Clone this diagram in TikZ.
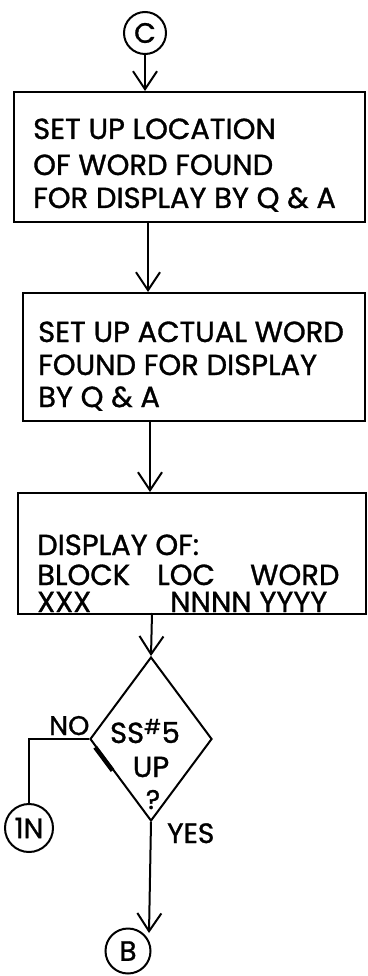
\documentclass[tikz,border=0pt]{standalone}
\usepackage{fontspec}
\setmainfont{Poppins}[FakeBold=1.1]
\usetikzlibrary{arrows.meta,shapes.geometric,calc}
\tikzset{
  ln/.style={line width=2pt},
  arr/.style={ln,-{Straight Barb[length=18pt,width=24pt,line width=2pt]}},
  boxx/.style={draw,ln,rectangle,anchor=north west,inner sep=0pt},
  txt/.style={anchor=base west,inner sep=0pt,font=\fontsize{29}{32}\selectfont},
  ctxt/.style={anchor=base,inner sep=0pt,font=\fontsize{29}{32}\selectfont},
  conn/.style={draw,ln,circle,inner sep=0pt,font=\fontsize{28}{30}\selectfont},
}
\begin{document}
\begin{tikzpicture}[x=1pt,y=-1pt]
\useasboundingbox (0,0) rectangle (367,976);
% connector C
\node[conn,minimum size=42pt] (c) at (145,33) {C};
% box 1
\node[boxx,minimum width=351pt,minimum height=130pt] (b1) at (13,91) {};
\node[txt] (b1a) at (33,139) {SET UP LOCATION};
\node[txt] (b1b) at (33,175) {OF WORD FOUND};
\node[txt] (b1c) at (33,208) {FOR DISPLAY BY Q \& A};
% box 2
\node[boxx,minimum width=342pt,minimum height=128pt] (b2) at (22,292) {};
\node[txt] (b2a) at (38,342) {SET UP ACTUAL WORD};
\node[txt] (b2b) at (38,375) {FOUND FOR DISPLAY};
\node[txt] (b2c) at (38,407) {BY Q \& A};
% box 3
\node[boxx,minimum width=348pt,minimum height=121pt] (b3) at (17,492) {};
\node[txt] (b3a) at (37,555) {DISPLAY OF:};
\node[txt] (b3b) at (37,585) {BLOCK};
\node[txt] (b3c) at (157,585) {LOC};
\node[txt] (b3d) at (250,585) {WORD};
\node[txt] (b3e) at (37,612) {XXX};
\node[txt] (b3f) at (170,612) {NNNN YYYY};
% decision
\node[draw,ln,diamond,inner sep=0pt,minimum width=122pt,minimum height=164pt] (d) at (151,739) {};
\node[ctxt] (d1) at (145,743) {SS\textsuperscript{\#}5};
\node[ctxt] (d2) at (151,777) {UP};
\node[ctxt,font=\fontsize{27}{29}\selectfont] (d3) at (153,809) {?};
\draw[line width=4.5pt] ($(d.west)!0.1!(d.south)$) -- ($(d.west)!0.38!(d.south)$);
\node[txt,font=\fontsize{27}{29}\selectfont] (no) at (49,735) {NO};
\node[txt,font=\fontsize{28}{30}\selectfont] (yes) at (167,843) {YES};
% off-page connectors
\node[conn,minimum size=48pt] (n1) at (29,828) {1N};
\node[conn,minimum size=45pt] (b) at (128,951) {B};
% connectors
\draw[arr] (c.south) -- (c.south |- b1.north);
\draw[arr] (148,221) -- (148,292);
\draw[arr] (150,420) -- (150,492);
\draw[arr] (152,613) -- (d.north);
\draw[ln] (d.west) -| (n1.north);
\draw[arr] (d.south) -- (149,933);
\end{tikzpicture}
\end{document}
